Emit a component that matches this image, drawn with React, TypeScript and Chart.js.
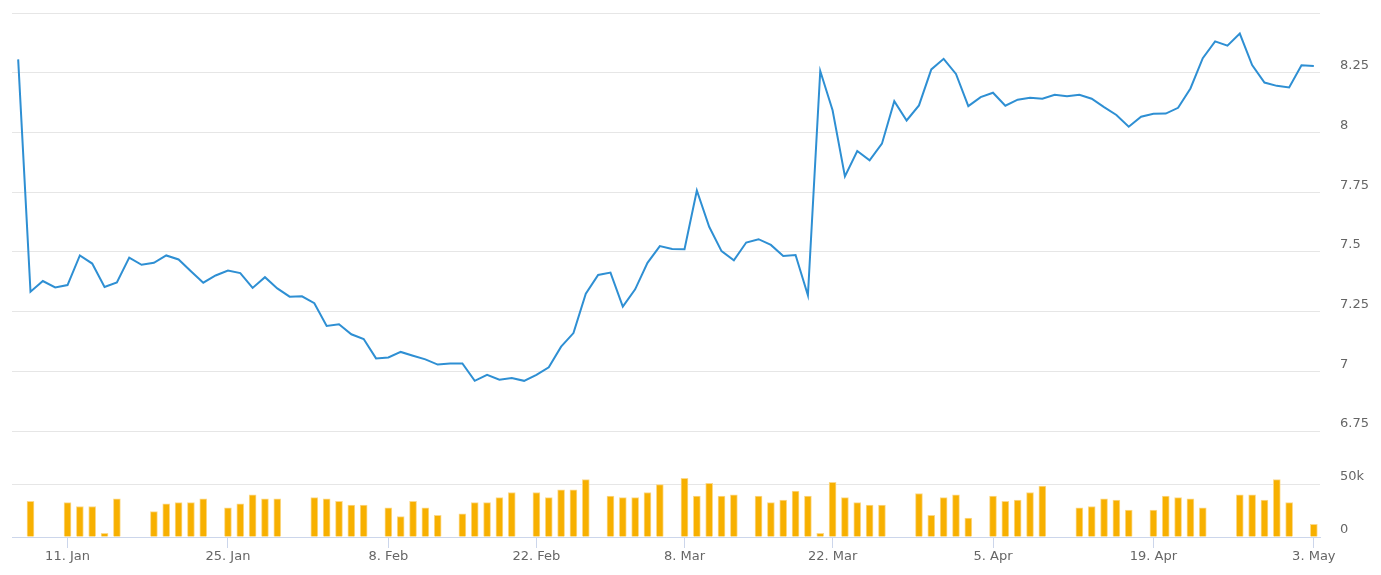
import React, { useEffect, useRef } from "react";
import { Chart, registerables } from "chart.js";

Chart.register(...registerables);

// Price per point (ordinal index 0..105)
const prices: number[] = [
  8.306, 7.333, 7.378, 7.351, 7.361, 7.485, 7.451, 7.353, 7.372, 7.476,
  7.446, 7.454, 7.485, 7.468, 7.419, 7.371, 7.401, 7.422, 7.411, 7.349,
  7.394, 7.347, 7.3125, 7.314, 7.285, 7.19, 7.197, 7.155, 7.135, 7.054,
  7.058, 7.081, 7.065, 7.05, 7.028, 7.033, 7.033, 6.96, 6.985, 6.965,
  6.972, 6.96, 6.985, 7.017, 7.103, 7.16, 7.325, 7.403, 7.413, 7.271,
  7.343, 7.454, 7.524, 7.512, 7.511, 7.757, 7.605, 7.503, 7.465, 7.539,
  7.553, 7.529, 7.483, 7.487, 7.318, 8.257, 8.093, 7.816, 7.922, 7.883,
  7.953, 8.131, 8.05, 8.113, 8.264, 8.308, 8.245, 8.11, 8.148, 8.166,
  8.112, 8.137, 8.145, 8.141, 8.158, 8.151, 8.158, 8.141, 8.106, 8.073,
  8.024, 8.066, 8.078, 8.079, 8.103, 8.184, 8.311, 8.381, 8.363, 8.414,
  8.282, 8.209, 8.195, 8.188, 8.281, 8.278,
];

// Volume per point (null = no bar)
const volumes: (number | null)[] = [
  null, 33700, null, null, 32400, 28800, 28800, 3500, 35900, null,
  null, 24000, 31400, 32400, 32400, 35900, null, 27600, 31400, 39700,
  35900, 35900, null, null, 37200, 35900, 33700, 30100, 30100, null,
  27600, 19200, 33700, 27600, 20500, null, 21800, 32400, 32400, 37200,
  42000, null, 42000, 37200, 44600, 44600, 54200, null, 38500, 37200,
  37200, 42000, 49400, null, 55400, 38500, 50600, 38500, 39700, null,
  38500, 32400, 34900, 43300, 38500, 3500, 51600, 37200, 32400, 30100,
  30100, null, null, 41000, 20500, 37200, 39700, 17900, null, 38500,
  33700, 34900, 42000, 48100, null, null, 27600, 28800, 35900, 34900,
  25300, null, 25300, 38500, 37200, 35900, 27600, null, null, 39700,
  39700, 34900, 54200, 32400, null, 11900,
];

const xTickIndices: number[] = [4, 17, 30, 42, 54, 66, 79, 92, 105];
const xTickLabels: string[] = ["11. Jan", "25. Jan", "8. Feb", "22. Feb", "8. Mar", "22. Mar", "5. Apr", "19. Apr", "3. May"];

const priceTicks: number[] = [6.75, 7, 7.25, 7.5, 7.75, 8, 8.25, 8.5];
const priceTickLabels: string[] = ["6.75", "7", "7.25", "7.5", "7.75", "8", "8.25", ""];

const volumeTicks: number[] = [0, 50000, 100000];
const volumeTickLabels: string[] = ["0", "50k", ""];

export default function App() {
  const ref = useRef<HTMLCanvasElement | null>(null);

  useEffect(() => {
    if (!ref.current) return;
    const font = { family: "'DejaVu Sans', Verdana, sans-serif", size: 13 };
    const zeroPad = (s: any) => {
      s.paddingTop = 0;
      s.paddingBottom = 0;
      s.paddingLeft = 0;
      s.paddingRight = 0;
    };
    const chart = new Chart(ref.current, {
      type: "bar",
      data: {
        datasets: [
          {
            type: "line",
            label: "Price",
            data: prices.map((v, i) => ({ x: i, y: v })),
            yAxisID: "y",
            borderColor: "#2e8fd3",
            borderWidth: 2,
            pointRadius: 0,
            tension: 0,
            fill: false,
          } as any,
          {
            type: "bar",
            label: "Volume",
            data: volumes
              .map((v, i) => (v === null ? null : { x: i, y: v }))
              .filter((p) => p !== null),
            yAxisID: "yv",
            backgroundColor: "#f7b000",
            borderColor: "#fcd98a",
            borderWidth: { left: 1, right: 1, top: 1, bottom: 0 },
            borderSkipped: "bottom",
            barThickness: 7,
          } as any,
        ],
      },
      options: {
        animation: false,
        responsive: false,
        devicePixelRatio: 1,
        layout: { padding: { left: 12, top: 13, right: 0, bottom: 0 } },
        plugins: { legend: { display: false }, tooltip: { enabled: false } },
        scales: {
          x: {
            type: "linear",
            position: "bottom",
            offset: false,
            min: -0.5,
            max: 105.5,
            afterBuildTicks: (s: any) => {
              s.ticks = xTickIndices.map((v) => ({ value: v }));
            },
            afterFit: (s: any) => {
              s.height = 38;
              zeroPad(s);
            },
            grid: {
              display: true,
              offset: false,
              drawOnChartArea: false,
              drawTicks: true,
              tickLength: 11,
              color: "#ccd6eb",
            },
            border: { display: true, color: "#ccd6eb", width: 1 },
            ticks: {
              autoSkip: false,
              maxRotation: 0,
              padding: 1,
              color: "#666666",
              font,
              callback: (_v: any, i: number) => xTickLabels[i],
            },
          },
          y: {
            type: "linear",
            position: "right",
            stack: "panes",
            stackWeight: 418,
            min: 6.75,
            max: 8.5,
            afterBuildTicks: (s: any) => {
              s.ticks = priceTicks.map((v) => ({ value: v }));
            },
            afterFit: (s: any) => {
              s.width = 61;
              zeroPad(s);
            },
            grid: { color: "#e6e6e6", drawTicks: false, lineWidth: 1 },
            border: { display: false },
            ticks: {
              padding: 20,
              labelOffset: -7,
              color: "#666666",
              font,
              callback: (_v: any, i: number) => priceTickLabels[i],
            },
          },
          yv: {
            type: "linear",
            position: "right",
            stack: "panes",
            stackWeight: 106,
            min: 0,
            max: 100000,
            afterBuildTicks: (s: any) => {
              s.ticks = volumeTicks.map((v) => ({ value: v }));
            },
            afterFit: (s: any) => {
              s.width = 61;
              zeroPad(s);
            },
            grid: { color: "#e6e6e6", drawTicks: false, lineWidth: 1 },
            border: { display: false },
            ticks: {
              padding: 20,
              labelOffset: -7,
              color: "#666666",
              font,
              callback: (_v: any, i: number) => volumeTickLabels[i],
            },
          },
        },
      } as any,
    });
    return () => chart.destroy();
  }, []);

  return (
    <div style={{ position: "fixed", left: 0, top: 0, width: 1381, height: 575, background: "#ffffff" }}>
      <canvas ref={ref} width={1381} height={575} style={{ display: "block", width: 1381, height: 575 }} />
    </div>
  );
}
